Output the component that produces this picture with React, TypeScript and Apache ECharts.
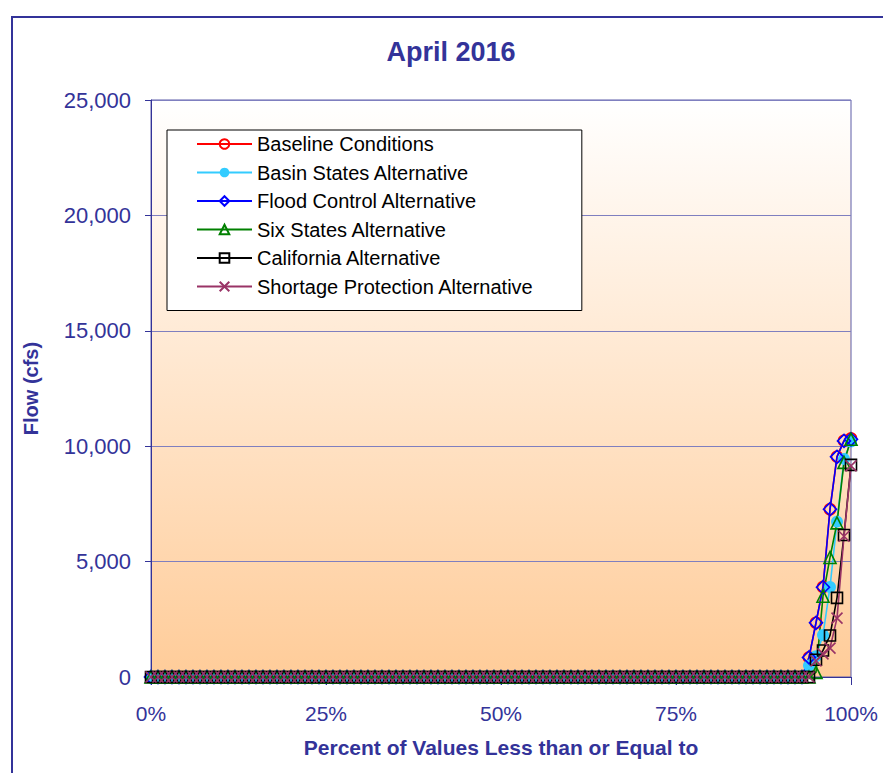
import React, { useEffect, useRef } from 'react';
import * as echarts from 'echarts';

const percentiles = [
  0, 1, 2, 3, 4, 5, 6, 7, 8, 9,
  10, 11, 12, 13, 14, 15, 16, 17, 18, 19,
  20, 21, 22, 23, 24, 25, 26, 27, 28, 29,
  30, 31, 32, 33, 34, 35, 36, 37, 38, 39,
  40, 41, 42, 43, 44, 45, 46, 47, 48, 49,
  50, 51, 52, 53, 54, 55, 56, 57, 58, 59,
  60, 61, 62, 63, 64, 65, 66, 67, 68, 69,
  70, 71, 72, 73, 74, 75, 76, 77, 78, 79,
  80, 81, 82, 83, 84, 85, 86, 87, 88, 89,
  90, 91, 92, 93, 94, 95, 96, 97, 98, 99,
  100,
];

const baselineConditions = [
  0, 0, 0, 0, 0, 0, 0, 0, 0, 0,
  0, 0, 0, 0, 0, 0, 0, 0, 0, 0,
  0, 0, 0, 0, 0, 0, 0, 0, 0, 0,
  0, 0, 0, 0, 0, 0, 0, 0, 0, 0,
  0, 0, 0, 0, 0, 0, 0, 0, 0, 0,
  0, 0, 0, 0, 0, 0, 0, 0, 0, 0,
  0, 0, 0, 0, 0, 0, 0, 0, 0, 0,
  0, 0, 0, 0, 0, 0, 0, 0, 0, 0,
  0, 0, 0, 0, 0, 0, 0, 0, 0, 0,
  0, 0, 0, 0, 850, 2350, 3900, 7270, 9550, 10240,
  10340,
];
const basinStates = [
  0, 0, 0, 0, 0, 0, 0, 0, 0, 0,
  0, 0, 0, 0, 0, 0, 0, 0, 0, 0,
  0, 0, 0, 0, 0, 0, 0, 0, 0, 0,
  0, 0, 0, 0, 0, 0, 0, 0, 0, 0,
  0, 0, 0, 0, 0, 0, 0, 0, 0, 0,
  0, 0, 0, 0, 0, 0, 0, 0, 0, 0,
  0, 0, 0, 0, 0, 0, 0, 0, 0, 0,
  0, 0, 0, 0, 0, 0, 0, 0, 0, 0,
  0, 0, 0, 0, 0, 0, 0, 0, 0, 0,
  0, 0, 0, 0, 500, 900, 1820, 3900, 6730, 9450,
  10200,
];
const floodControl = [
  0, 0, 0, 0, 0, 0, 0, 0, 0, 0,
  0, 0, 0, 0, 0, 0, 0, 0, 0, 0,
  0, 0, 0, 0, 0, 0, 0, 0, 0, 0,
  0, 0, 0, 0, 0, 0, 0, 0, 0, 0,
  0, 0, 0, 0, 0, 0, 0, 0, 0, 0,
  0, 0, 0, 0, 0, 0, 0, 0, 0, 0,
  0, 0, 0, 0, 0, 0, 0, 0, 0, 0,
  0, 0, 0, 0, 0, 0, 0, 0, 0, 0,
  0, 0, 0, 0, 0, 0, 0, 0, 0, 0,
  0, 0, 0, 0, 850, 2350, 3890, 7270, 9540, 10230,
  10300,
];
const sixStates = [
  0, 0, 0, 0, 0, 0, 0, 0, 0, 0,
  0, 0, 0, 0, 0, 0, 0, 0, 0, 0,
  0, 0, 0, 0, 0, 0, 0, 0, 0, 0,
  0, 0, 0, 0, 0, 0, 0, 0, 0, 0,
  0, 0, 0, 0, 0, 0, 0, 0, 0, 0,
  0, 0, 0, 0, 0, 0, 0, 0, 0, 0,
  0, 0, 0, 0, 0, 0, 0, 0, 0, 0,
  0, 0, 0, 0, 0, 0, 0, 0, 0, 0,
  0, 0, 0, 0, 0, 0, 0, 0, 0, 0,
  0, 0, 0, 0, 0, 200, 3500, 5180, 6680, 9300,
  10300,
];
const california = [
  0, 0, 0, 0, 0, 0, 0, 0, 0, 0,
  0, 0, 0, 0, 0, 0, 0, 0, 0, 0,
  0, 0, 0, 0, 0, 0, 0, 0, 0, 0,
  0, 0, 0, 0, 0, 0, 0, 0, 0, 0,
  0, 0, 0, 0, 0, 0, 0, 0, 0, 0,
  0, 0, 0, 0, 0, 0, 0, 0, 0, 0,
  0, 0, 0, 0, 0, 0, 0, 0, 0, 0,
  0, 0, 0, 0, 0, 0, 0, 0, 0, 0,
  0, 0, 0, 0, 0, 0, 0, 0, 0, 0,
  0, 0, 0, 0, 0, 750, 1150, 1800, 3430, 6150,
  9190,
];
const shortageProtection = [
  0, 0, 0, 0, 0, 0, 0, 0, 0, 0,
  0, 0, 0, 0, 0, 0, 0, 0, 0, 0,
  0, 0, 0, 0, 0, 0, 0, 0, 0, 0,
  0, 0, 0, 0, 0, 0, 0, 0, 0, 0,
  0, 0, 0, 0, 0, 0, 0, 0, 0, 0,
  0, 0, 0, 0, 0, 0, 0, 0, 0, 0,
  0, 0, 0, 0, 0, 0, 0, 0, 0, 0,
  0, 0, 0, 0, 0, 0, 0, 0, 0, 0,
  0, 0, 0, 0, 0, 0, 0, 0, 0, 0,
  0, 0, 0, 0, 0, 700, 1000, 1250, 2550, 6100,
  9150,
];

const seriesNames = [
  'Baseline Conditions',
  'Basin States Alternative',
  'Flood Control Alternative',
  'Six States Alternative',
  'California Alternative',
  'Shortage Protection Alternative',
];

const titleText = 'April 2016';
const yAxisTitle = 'Flow (cfs)';
const xAxisTitle = 'Percent of Values Less than or Equal to';

const FONT = 'Liberation Sans, Arial, sans-serif';
const NAVY = '#333399';

export default function App() {
  const ref = useRef<HTMLDivElement>(null);

  useEffect(() => {
    document.body.style.margin = '0';
    const chart = echarts.init(ref.current!, null, { renderer: 'svg' });

    const mk = (
      name: string,
      values: number[],
      color: string,
      symbol: string,
      size: number,
      filled: boolean,
    ) => ({
      name,
      type: 'line',
      data: percentiles.map((p, i) => [p, values[i]]),
      symbol,
      symbolSize: size,
      showSymbol: true,
      lineStyle: { color, width: 1.6 },
      itemStyle: {
        color: filled ? color : 'transparent',
        borderColor: color,
        borderWidth: filled ? 0 : 1.6,
      },
      emphasis: { disabled: true },
    });

    const option = {
      animation: false,
      graphic: [
        {
          type: 'rect',
          shape: { x: 12, y: 17, width: 1000, height: 900 },
          style: { fill: 'transparent', stroke: NAVY, lineWidth: 2 },
          z: -1,
        },
        {
          type: 'text',
          x: 451,
          y: 52,
          style: {
            text: titleText,
            textAlign: 'center',
            textVerticalAlign: 'middle',
            font: `bold 27px ${FONT}`,
            fill: NAVY,
          },
        },
      ],
      grid: {
        left: 151,
        right: 32,
        top: 100,
        bottom: 96,
        show: true,
        borderColor: '#5c5ca8',
        borderWidth: 1,
        backgroundColor: new echarts.graphic.LinearGradient(0, 0, 0, 1, [
          { offset: 0, color: '#ffffff' },
          { offset: 1, color: '#ffcc99' },
        ]),
      },
      legend: {
        orient: 'vertical',
        left: 167,
        top: 130,
        data: seriesNames,
        itemWidth: 55,
        itemHeight: 12,
        itemGap: 8.5,
        padding: [4, 48, 14, 29],
        backgroundColor: '#ffffff',
        borderColor: '#000000',
        borderWidth: 1,
        textStyle: { color: '#000000', fontSize: 20, fontFamily: FONT },
      },
      xAxis: {
        type: 'value',
        min: 0,
        max: 100,
        interval: 25,
        name: xAxisTitle,
        nameLocation: 'middle',
        nameGap: 60,
        nameTextStyle: { color: NAVY, fontSize: 21, fontWeight: 'bold', fontFamily: FONT },
        axisLine: { show: true, lineStyle: { color: NAVY, width: 1 } },
        axisTick: { show: true, length: 8, lineStyle: { color: NAVY } },
        axisLabel: {
          formatter: (v: number) => `${v}%`,
          color: NAVY,
          fontSize: 21,
          fontFamily: FONT,
          margin: 26,
        },
        splitLine: { show: false },
      },
      yAxis: {
        type: 'value',
        min: 0,
        max: 25000,
        interval: 5000,
        name: yAxisTitle,
        nameLocation: 'middle',
        nameRotate: 90,
        nameGap: 110,
        nameTextStyle: { color: NAVY, fontSize: 20, fontWeight: 'bold', fontFamily: FONT },
        axisLine: { show: true, lineStyle: { color: NAVY, width: 1 } },
        axisTick: { show: true, length: 6, lineStyle: { color: NAVY } },
        axisLabel: {
          formatter: (v: number) => v.toLocaleString('en-US'),
          color: NAVY,
          fontSize: 22,
          fontFamily: FONT,
          margin: 20,
        },
        splitLine: { show: true, lineStyle: { color: '#7f7fbf', width: 1 } },
      },
      series: [
        mk(seriesNames[0], baselineConditions, '#ff0000', 'circle', 11, false),
        mk(seriesNames[1], basinStates, '#33ccff', 'circle', 12, true),
        mk(seriesNames[2], floodControl, '#0000ff', 'diamond', 13, false),
        mk(seriesNames[3], sixStates, '#008000', 'triangle', 12, false),
        mk(seriesNames[4], california, '#000000', 'rect', 11, false),
        mk(seriesNames[5], shortageProtection, '#993366', 'path://M0,0L10,10M10,0L0,10', 11, false),
      ],
    };

    chart.setOption(option as any);
    return () => chart.dispose();
  }, []);

  return <div ref={ref} style={{ width: 883, height: 773 }} />;
}
